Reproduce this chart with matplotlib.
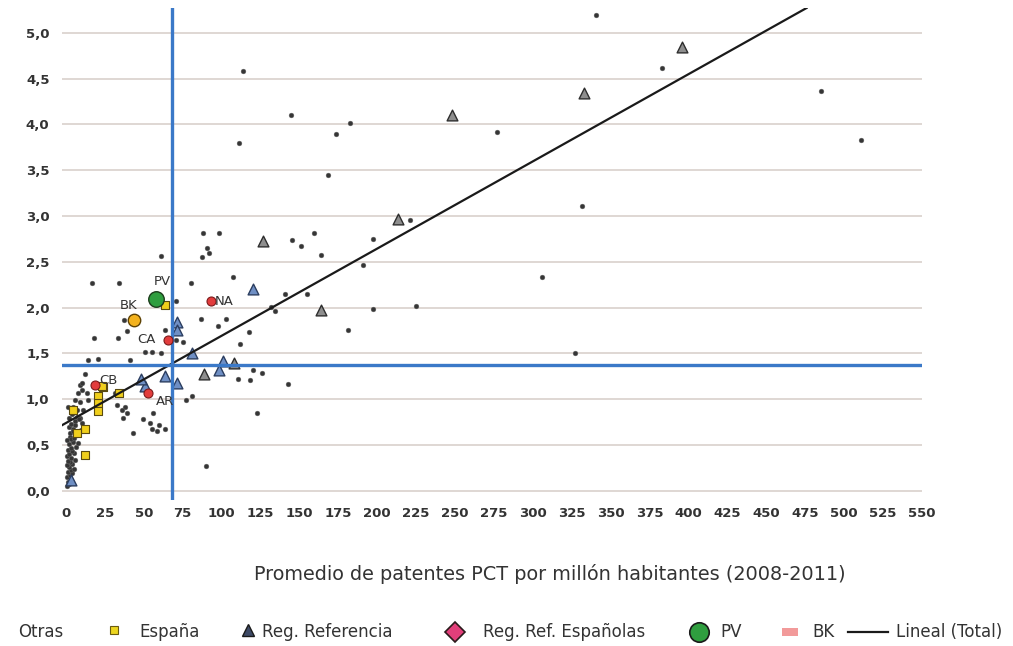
import numpy as np
import matplotlib
matplotlib.use("Agg")
import matplotlib.pyplot as plt
from matplotlib.lines import Line2D
from matplotlib.patches import Rectangle

# ---------------- data ----------------
otras_x = [340.8, 382.8, 484.9, 510.7, 182.6, 173.5, 277.2, 168.6, 331.4, 220.8,
           159.2, 197.3, 150.9, 163.6, 190.9, 305.9, 154.8, 197.3, 225.2, 181.2,
           327.3, 113.8, 144.4, 111.4,
           87.8, 98.1, 145.5, 90.4, 92.0, 87.6, 107.3, 80.1, 70.5, 140.7,
           131.5, 134.5, 87.0, 102.7, 98.0, 117.8, 112.0, 61.1, 16.5, 34.1,
           37.5, 18.0, 33.4, 39.5, 63.6, 70.6, 75.5, 55.5, 61.1, 51.0,
           13.9, 20.8, 41.1,
           110.7, 118.5, 120.4, 125.8, 142.9, 77.0, 81.3, 122.5, 89.8, 56.0,
           60.0, 63.8, 55.0, 58.3, 49.7, 54.0, 43.0, 32.6, 37.9, 35.8,
           39.0, 36.8, 31.5, 12.2,
           9.0, 10.1, 7.9, 13.3, 5.8, 9.0, 4.7, 3.7, 6.9, 5.8,
           10.1, 4.7, 2.6, 10.1, 14.3, 11.1, 9.0,
           1.0, 2.0, 1.5, 3.0, 0.8, 2.4, 4.0, 1.2, 3.2, 5.0,
           2.0, 0.9, 4.2, 2.8, 1.5, 6.0, 3.5, 0.7, 2.2, 5.0,
           4.0, 1.3, 3.0, 6.5, 2.0, 4.5, 8.0, 1.0, 3.5, 5.5,
           7.0, 2.5, 4.8, 9.5, 1.8, 3.0, 6.0, 8.5, 2.0, 4.0,
           7.0, 1.2]
otras_y = [5.19, 4.62, 4.36, 3.83, 4.02, 3.90, 3.92, 3.45, 3.11, 2.96,
           2.81, 2.75, 2.67, 2.57, 2.47, 2.33, 2.15, 1.98, 2.02, 1.76,
           1.50, 4.58, 4.10, 3.80,
           2.81, 2.81, 2.74, 2.65, 2.60, 2.55, 2.33, 2.27, 2.07, 2.15,
           2.01, 1.96, 1.88, 1.88, 1.80, 1.73, 1.60, 2.56, 2.27, 2.27,
           1.86, 1.67, 1.67, 1.75, 1.76, 1.65, 1.62, 1.52, 1.50, 1.51,
           1.43, 1.44, 1.43,
           1.22, 1.21, 1.32, 1.29, 1.17, 0.99, 1.03, 0.85, 0.27, 0.85,
           0.72, 0.67, 0.67, 0.65, 0.78, 0.74, 0.63, 0.94, 0.92, 0.88,
           0.85, 0.79, 1.07, 1.28,
           1.16, 1.10, 1.07, 1.07, 0.99, 0.97, 0.92, 0.85, 0.81, 0.76,
           0.74, 0.68, 0.59, 1.18, 0.99, 0.88, 0.80,
           0.05, 0.07, 0.10, 0.12, 0.15, 0.17, 0.19, 0.21, 0.23, 0.24,
           0.26, 0.28, 0.29, 0.31, 0.33, 0.34, 0.36, 0.38, 0.40, 0.41,
           0.44, 0.45, 0.47, 0.48, 0.51, 0.53, 0.52, 0.55, 0.57, 0.58,
           0.61, 0.63, 0.65, 0.66, 0.70, 0.73, 0.72, 0.78, 0.80, 0.84,
           0.88, 0.92]

espana_x = [63.8, 24.0, 22.9, 20.8, 20.8, 20.8, 34.4, 4.7, 12.2, 6.9, 12.2]
espana_y = [2.03, 1.13, 1.14, 1.04, 0.96, 0.87, 1.07, 0.88, 0.68, 0.63, 0.39]

ref_gray_x = [395.7, 332.6, 248.3, 213.6, 164.2, 126.5, 88.9, 108.0]
ref_gray_y = [4.84, 4.34, 4.10, 2.97, 1.97, 2.73, 1.27, 1.40]
ref_blue_x = [120.5, 71.1, 71.6, 80.8, 101.0, 98.5, 63.6, 71.1, 50.8, 48.0, 3.2]
ref_blue_y = [2.20, 1.84, 1.76, 1.50, 1.42, 1.32, 1.25, 1.18, 1.14, 1.22, 0.12]

refesp_names = ["NA", "CA", "CB", "AR"]
refesp_x = [93.0, 65.7, 18.6, 52.9]
refesp_y = [2.07, 1.65, 1.16, 1.07]

pv_x, pv_y = [57.7], [2.09]
bk_x, bk_y = [44.0], [1.86]

trend_intercept = 0.74
trend_slope = 0.00952
mean_x = 68.0
mean_y = 1.37

x_ticks = list(range(0, 551, 25))
y_ticks = [0.0, 0.5, 1.0, 1.5, 2.0, 2.5, 3.0, 3.5, 4.0, 4.5, 5.0]

# ---------------- figure ----------------
W, H = 1013, 646
fig = plt.figure(figsize=(W / 100, H / 100), dpi=100)
fig.patch.set_facecolor("white")

def fx(px):
    return px / W

def fy(py):
    return 1 - py / H

ax = fig.add_axes([fx(62), fy(500), fx(922) - fx(62), fy(8) - fy(500)])
ax.set_xlim(-2.5, 550)
ax.set_ylim(-0.1, 5.27)
for s in ax.spines.values():
    s.set_visible(False)

ax.set_yticks(y_ticks)
ax.set_yticklabels([f"{v:.1f}".replace(".", ",") for v in y_ticks])
ax.set_xticks(x_ticks)
ax.set_xticklabels([str(v) for v in x_ticks])
ax.tick_params(length=0, labelsize=9.5, colors="#333333")
ax.tick_params(axis="y", pad=9)
ax.tick_params(axis="x", pad=5)
for lab in ax.get_xticklabels() + ax.get_yticklabels():
    lab.set_fontweight("semibold")
ax.yaxis.grid(True, color="#dcd4d0", lw=1.3)
ax.xaxis.grid(False)
ax.set_axisbelow(True)

ax.set_xlabel("Promedio de patentes PCT por millón habitantes (2008-2011)",
              fontsize=13.9, color="#333333", va="center")
ax.xaxis.set_label_coords((550 - 62) / 860, -(574 - 500) / 492)

# points
ax.scatter(otras_x, otras_y, s=12, c="#363636", edgecolors="#6a6a6a",
           linewidths=0.3, zorder=3)
ax.scatter(espana_x, espana_y, s=26, marker="s", c="#f0cf1c",
           edgecolors="#5a4a10", linewidths=0.8, zorder=4)
ax.scatter(ref_gray_x, ref_gray_y, s=60, marker="^", c="#8e8e8e",
           edgecolors="#2e2e2e", linewidths=1.0, zorder=4)
ax.scatter(ref_blue_x, ref_blue_y, s=60, marker="^", c="#6f8fc4",
           edgecolors="#2c3e60", linewidths=1.0, zorder=4)

# lines
ax.axline((0, trend_intercept), slope=trend_slope, color="#1a1a1a", lw=1.6, zorder=5)
ax.axvline(mean_x, color="#3b79c8", lw=2.4, zorder=5)
ax.axhline(mean_y, color="#3b79c8", lw=2.4, zorder=5)

ax.scatter(refesp_x, refesp_y, s=42, marker="o", c="#e23c3c",
           edgecolors="#7a1a1a", linewidths=0.8, zorder=6)
ax.scatter(pv_x, pv_y, s=125, marker="o", c="#2f9e3f",
           edgecolors="#1c3d1c", linewidths=1.0, zorder=6)
ax.scatter(bk_x, bk_y, s=80, marker="o", c="#f3b21d",
           edgecolors="#5e4204", linewidths=1.0, zorder=6)

# point labels
lab_kw = dict(fontsize=9.5, color="#333333", ha="center", va="center", zorder=7)
ax.text(pv_x[0] + 4.5, pv_y[0] + 0.19, "PV", **lab_kw)
ax.text(bk_x[0] - 3.5, bk_y[0] + 0.16, "BK", **lab_kw)
offsets = {"NA": (9, 0.0), "CA": (-14, 0.0), "CB": (8.5, 0.04), "AR": (11, -0.10)}
for name, xv, yv in zip(refesp_names, refesp_x, refesp_y):
    dx, dy = offsets[name]
    ax.text(xv + dx, yv + dy, name, **lab_kw)

# ---------------- legend (manual, figure coords) ----------------
ly = 632
leg_fs = 12
leg_col = "#333333"
def ltext(px, s):
    fig.text(fx(px), fy(ly), s, fontsize=leg_fs, color=leg_col, ha="left", va="center")

ltext(18, "Otras")
fig.add_artist(Line2D([fx(114)], [fy(ly - 2)], marker="s", markersize=5.5,
                      markerfacecolor="#ecd51f", markeredgecolor="#6b5b10",
                      markeredgewidth=0.8, linestyle="none"))
ltext(139, "España")
fig.add_artist(Line2D([fx(248)], [fy(ly - 2)], marker="^", markersize=9,
                      markerfacecolor="#3e4a66", markeredgecolor="#1a1a1a",
                      markeredgewidth=1.0, linestyle="none"))
ltext(262, "Reg. Referencia")
fig.add_artist(Line2D([fx(455)], [fy(ly)], marker="D", markersize=10,
                      markerfacecolor="#e23f7a", markeredgecolor="#2a1a1a",
                      markeredgewidth=1.2, linestyle="none"))
ltext(483, "Reg. Ref. Españolas")
fig.add_artist(Line2D([fx(699)], [fy(ly)], marker="o", markersize=14,
                      markerfacecolor="#2f9e3f", markeredgecolor="#1a1a1a",
                      markeredgewidth=1.2, linestyle="none"))
ltext(720, "PV")
fig.add_artist(Rectangle((fx(782), fy(ly + 4)), fx(16), 8 / H,
                         transform=fig.transFigure, facecolor="#f29a9a",
                         edgecolor="none"))
ltext(812, "BK")
fig.add_artist(Line2D([fx(848), fx(888)], [fy(ly), fy(ly)], color="#1a1a1a", lw=1.6))
ltext(896, "Lineal (Total)")

fig.savefig("out.png", dpi=100, facecolor="white")
